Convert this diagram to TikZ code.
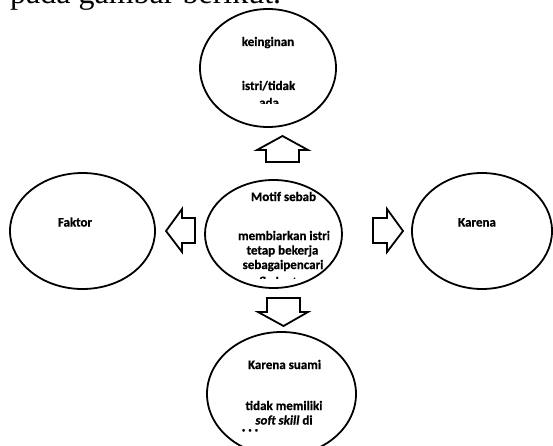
\documentclass[tikz,border=0pt]{standalone}
\usepackage{fontspec}
\setmainfont{Carlito}[BoldFeatures={FakeBold=0.8},BoldItalicFeatures={FakeBold=0.8}]
\newfontfamily\serifa{Liberation Serif}
\usetikzlibrary{shapes.geometric}
\begin{document}
\begin{tikzpicture}[x=1pt,y=-1pt,
  oval/.style={draw=black, line width=1.8pt, ellipse, inner sep=0pt},
  lbl/.style={font=\fontsize{13}{14.5}\selectfont\bfseries, inner sep=0pt, anchor=base},
  barrow/.style={draw=black, line width=1.8pt, line join=miter, fill=white}]
\clip (0,0) rectangle (553,446);
\fill[white] (0,0) rectangle (553,446);

% heading fragment
\node[anchor=base west, font=\serifa\fontsize{32}{32}\selectfont, inner sep=0pt] (head) at (10,3.5) {pada gambar berikut.};

% ellipses
\node[oval, minimum width=136pt, minimum height=118pt] (top) at (268,68) {};
\node[oval, minimum width=137pt, minimum height=108pt] (mid) at (273.5,234) {};
\node[oval, minimum width=145pt, minimum height=116pt] (left) at (82.5,231) {};
\node[oval, minimum width=140pt, minimum height=116pt] (right) at (482,231) {};
\node[oval, minimum width=149pt, minimum height=124pt] (bot) at (281.5,394) {};

% block arrows
\draw[barrow] (282.5,136) -- (308,150) -- (299,150) -- (299,162) -- (266,162) -- (266,150) -- (257,150) -- cycle;
\draw[barrow] (267,298) -- (300,298) -- (300,312) -- (308,312) -- (283.5,326) -- (258,312) -- (267,312) -- cycle;
\draw[barrow] (166,231) -- (182,209) -- (182,218) -- (195,218) -- (195,243) -- (182,243) -- (182,252) -- cycle;
\draw[barrow] (403,231) -- (387,209) -- (387,218) -- (373,218) -- (373,243) -- (387,243) -- (387,252) -- cycle;

% top text
\node[lbl] (t1) at (268,46) {keinginan};
\node[lbl] (t2) at (268.5,90) {istri/tidak};
\begin{scope}
\clip (150,95) rectangle (400,103.5);
\node[lbl] (t3) at (269,107) {ada};
\end{scope}

% middle text
\node[lbl] (m1) at (283.5,201) {Motif sebab};
\node[lbl] (m2) at (284,240) {membiarkan istri};
\node[lbl] (m3) at (282.5,254.5) {tetap bekerja};
\node[lbl] (m4) at (283,269) {sebagaipencari};
\begin{scope}
\clip (150,274) rectangle (400,278.5);
\node[lbl] (m5) at (283,286) {nafkah utama};
\end{scope}

% side text
\node[lbl] (l1) at (75,226.5) {Faktor};
\node[lbl] (r1) at (477,226.5) {Karena};

% bottom text
\node[lbl] (b1) at (284.5,369) {Karena suami};
\node[lbl] (b2) at (284,410) {tidak memiliki};
\node[lbl] (b3) at (284,424.5) {\itshape soft skill\/\upshape{} di};
\node[lbl] (b4) at (250,434) {· · ·};
\end{tikzpicture}
\end{document}
